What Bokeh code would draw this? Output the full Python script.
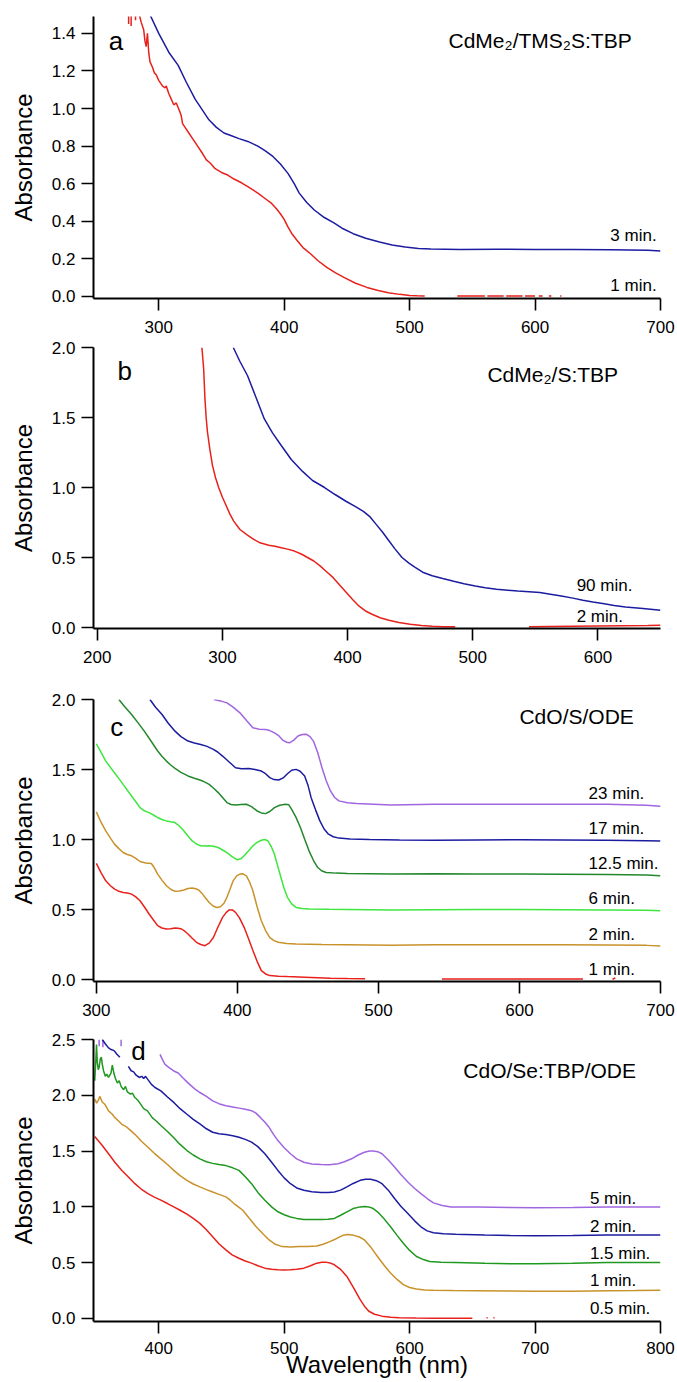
from bokeh.plotting import figure
from bokeh.layouts import column
from bokeh.models import FixedTicker, NumeralTickFormatter, Label, Range1d
from bokeh.embed import file_html
from bokeh.resources import INLINE

NaN = float("nan")
FONT = "Liberation Sans"

RED = "#e8211b"
BLUE = "#1c1ca0"
GOLD = "#c8922a"
LGREEN = "#3ee63e"
DGREEN = "#23882b"
GREEN = "#1f981f"
PURPLE = "#a066e0"

# ---------------- Panel a : CdMe2/TMS2S:TBP ----------------
a_wl_3min = [293, 300, 308, 315.5, 322, 329, 335, 340, 346, 352, 358, 364, 371, 379, 385, 391, 397, 403, 408, 412, 418,
             424, 432, 440, 447, 455, 465, 476, 486, 496.5, 507, 517, 540, 570, 600, 630, 660, 690, 700]
a_abs_3min = [1.50, 1.40, 1.30, 1.23, 1.14, 1.05, 0.99, 0.94, 0.90, 0.87, 0.855, 0.84, 0.825, 0.80, 0.775, 0.745, 0.705,
              0.655, 0.60, 0.55, 0.50, 0.46, 0.42, 0.39, 0.36, 0.334, 0.31, 0.29, 0.274, 0.263, 0.255, 0.252, 0.25,
              0.251, 0.25, 0.25, 0.249, 0.246, 0.242]
a_wl_1min = [276, 276, NaN, 278, 278, NaN, 281.5, 281.5, NaN,
             284.5, 286, 288, 289, 290, 291, 292, 293, 295, 296.5, 298, 300, 302, 303, 305, 306, 308, 310, 312, 314, 317,
             318, 319, 321, 324, 327, 331, 334, 338, 341, 345, 350, 355, 360, 366, 372, 379, 385, 390, 394, 397, 400,
             403, 406, 410, 415, 421, 427, 434, 441, 448, 457, 466, 475, 483, 492, 500, 506, 512,
             NaN, 538, 560, NaN, 562, 575, NaN, 577, 590, NaN, 592, 600, NaN, 603, 606, NaN, 611, 613, NaN, 620, 621]
a_abs_1min = [1.45, 1.50, NaN, 1.44, 1.50, NaN, 1.47, 1.50, NaN,
              1.50, 1.46, 1.42, 1.36, 1.33, 1.40, 1.30, 1.25, 1.22, 1.19, 1.18, 1.15, 1.13, 1.12, 1.11, 1.12, 1.08, 1.05,
              1.02, 1.03, 0.98, 0.96, 0.92, 0.90, 0.87, 0.84, 0.80, 0.77, 0.727, 0.71, 0.68, 0.66, 0.646, 0.625, 0.605,
              0.58, 0.55, 0.52, 0.495, 0.465, 0.44, 0.41, 0.37, 0.335, 0.30, 0.26, 0.227, 0.19, 0.155, 0.125, 0.10, 0.07,
              0.048, 0.032, 0.02, 0.011, 0.005, 0.003, 0.002,
              NaN, 0.002, 0.002, NaN, 0.002, 0.002, NaN, 0.002, 0.002, NaN, 0.002, 0.002, NaN, 0.002, 0.002, NaN,
              0.002, 0.002, NaN, 0.002, 0.002]

# ---------------- Panel b : CdMe2/S:TBP ----------------
b_wl_90min = [308.7, 314, 320, 327, 333.5, 340, 347, 355, 364, 372, 381.6, 390, 399, 406, 412.6, 418, 423, 428, 433, 438,
              443.5, 449, 454, 460, 467.6, 476, 484.8, 493, 502, 510, 519, 528, 536, 545, 553.6, 562, 570.8, 580, 588,
              596, 605, 613, 622, 636, 650]
b_abs_90min = [2.0, 1.90, 1.80, 1.64, 1.49, 1.39, 1.30, 1.20, 1.115, 1.05, 1.00, 0.95, 0.90, 0.865, 0.83, 0.79, 0.735,
               0.68, 0.62, 0.56, 0.50, 0.46, 0.43, 0.395, 0.37, 0.35, 0.33, 0.313, 0.297, 0.284, 0.273, 0.266, 0.26,
               0.255, 0.25, 0.238, 0.225, 0.21, 0.195, 0.182, 0.17, 0.158, 0.147, 0.135, 0.123]
b_wl_2min = [283.6, 285, 286, 287, 288, 290, 292, 294.5, 297, 300, 302.5, 306, 309, 314, 320, 325, 330, 337, 342, 347,
             352, 357.5, 363, 368, 373, 378, 383, 388.5, 394, 399, 404, 409, 414, 419.5, 426, 433, 441, 450, 459, 467.6,
             476, 486, NaN, 545, 560, 580, 600, 620, 640, 650]
b_abs_2min = [2.0, 1.85, 1.64, 1.50, 1.40, 1.27, 1.16, 1.07, 1.0, 0.93, 0.88, 0.81, 0.76, 0.70, 0.66, 0.63, 0.605, 0.588,
              0.58, 0.57, 0.56, 0.546, 0.525, 0.50, 0.475, 0.44, 0.40, 0.356, 0.30, 0.25, 0.20, 0.154, 0.12, 0.095, 0.07,
              0.052, 0.036, 0.024, 0.014, 0.009, 0.006, 0.005, NaN, 0.005, 0.007, 0.009, 0.011, 0.013, 0.015, 0.017]

# ---------------- Panel c : CdO/S/ODE ----------------
c_wl_1min = [300, 303.5, 306.7, 310, 313, 316, 319, 322, 325, 328, 331, 334, 337.4, 340.5, 343.5, 346.5, 349.7, 352.7,
             355.8, 358, 360.4, 362.7, 365, 368, 371, 374, 377, 380, 383, 386, 389.5, 392, 394, 396.5, 398.7, 401.5,
             404.8, 408, 411, 414, 417, 420, 423, 429, 435.5, 447.7, 466, 478, 490.6, NaN, 545, 645, NaN, 666, 668]
c_abs_1min = [0.83, 0.76, 0.705, 0.67, 0.646, 0.63, 0.622, 0.618, 0.61, 0.59, 0.563, 0.52, 0.468, 0.425, 0.385, 0.368,
              0.361, 0.362, 0.368, 0.367, 0.361, 0.345, 0.325, 0.295, 0.266, 0.25, 0.242, 0.26, 0.30, 0.37, 0.444, 0.478,
              0.496, 0.497, 0.48, 0.44, 0.373, 0.29, 0.207, 0.13, 0.064, 0.04, 0.028, 0.024, 0.021, 0.017, 0.01, 0.007,
              0.005, NaN, 0.003, 0.003, NaN, 0.002, 0.012]
c_wl_2min = [300, 303.5, 306.7, 310, 312.9, 316, 319, 322, 325, 328, 331, 335, 339, 341, 343.5, 346.5, 349.7, 352.7,
             355.8, 359, 362, 365, 368, 370.5, 372.6, 375, 377, 380, 383, 385.5, 388, 390.5, 392.6, 395, 397, 399.5,
             401.8, 404, 406.4, 408.5, 411, 414, 417, 420, 423, 426, 429, 435, 441.6, 460, 478, 509, 539.7, 570, 601,
             630, 662, 690, 700]
c_abs_2min = [1.197, 1.12, 1.062, 1.01, 0.967, 0.935, 0.907, 0.893, 0.884, 0.865, 0.843, 0.832, 0.829, 0.80, 0.753, 0.71,
              0.67, 0.645, 0.63, 0.632, 0.64, 0.65, 0.653, 0.648, 0.64, 0.615, 0.587, 0.55, 0.523, 0.515, 0.52, 0.545,
              0.587, 0.65, 0.705, 0.74, 0.753, 0.755, 0.741, 0.70, 0.634, 0.52, 0.42, 0.35, 0.30, 0.278, 0.266, 0.258,
              0.254, 0.25, 0.249, 0.245, 0.249, 0.249, 0.249, 0.249, 0.247, 0.244, 0.24]
c_wl_6min = [300, 303.5, 306.7, 310, 312.9, 316, 319, 322, 325, 328, 331, 334, 337.4, 340.5, 343.5, 346.5, 349.7, 352.7,
             355.8, 359, 362, 365, 368, 371, 374, 377, 380, 383, 386.4, 389.5, 392.6, 396, 400, 402.5, 404.8, 408, 411,
             414, 417, 419.5, 421.7, 424, 426.3, 428.5, 430.9, 433, 435.5, 438.5, 441.6, 446, 450.8, 465, 478, 509,
             539.7, 570, 601, 630, 662, 690, 700]
c_abs_6min = [1.684, 1.62, 1.56, 1.515, 1.477, 1.435, 1.394, 1.352, 1.311, 1.27, 1.228, 1.205, 1.192, 1.175, 1.157,
              1.143, 1.133, 1.127, 1.121, 1.095, 1.062, 1.025, 0.99, 0.968, 0.955, 0.953, 0.955, 0.952, 0.943, 0.925,
              0.907, 0.88, 0.855, 0.862, 0.884, 0.92, 0.955, 0.98, 0.995, 1.0, 0.99, 0.95, 0.895, 0.815, 0.729, 0.655,
              0.587, 0.54, 0.515, 0.507, 0.504, 0.502, 0.501, 0.496, 0.499, 0.5, 0.501, 0.499, 0.496, 0.494, 0.492]
c_wl_12min = [316, 320, 325, 329.5, 334, 339, 343.5, 346.5, 349.7, 352.7, 355.8, 360, 365, 369.5, 374, 377, 380, 383,
              386.4, 389.5, 392.6, 395.5, 398.7, 402.5, 406.4, 410, 414, 417, 420, 423, 426.3, 430, 434, 436.5, 438.5,
              441.5, 444.7, 447.8, 450.8, 454, 457, 460, 463, 470, 478, 509, 539.7, 570, 601, 630, 662, 690, 700]
c_abs_12min = [2.0, 1.95, 1.893, 1.835, 1.774, 1.70, 1.632, 1.595, 1.56, 1.532, 1.508, 1.48, 1.454, 1.438, 1.423, 1.41,
               1.394, 1.368, 1.335, 1.30, 1.264, 1.25, 1.247, 1.25, 1.252, 1.235, 1.204, 1.19, 1.185, 1.2, 1.228, 1.245,
               1.252, 1.248, 1.216, 1.16, 1.086, 1.0, 0.919, 0.85, 0.80, 0.775, 0.765, 0.76, 0.758, 0.753, 0.755, 0.754,
               0.753, 0.752, 0.75, 0.746, 0.741]
c_wl_17min = [338, 342, 346.6, 351, 355.8, 360, 365, 369.5, 374, 378.5, 383, 386, 389.5, 394, 398.7, 403, 408, 412.5,
              417, 420, 423, 426, 429.3, 432.5, 435.5, 438.5, 441.6, 444.5, 447.7, 450, 452.3, 455.5, 458.5, 461.5,
              464.6, 468, 472, 480, 493.7, 515, 539.7, 570, 601, 630, 662, 690, 700]
c_abs_17min = [2.0, 1.945, 1.893, 1.83, 1.774, 1.735, 1.703, 1.69, 1.679, 1.665, 1.644, 1.625, 1.596, 1.555, 1.513,
               1.505, 1.508, 1.50, 1.489, 1.47, 1.442, 1.428, 1.425, 1.44, 1.47, 1.495, 1.501, 1.488, 1.454, 1.39, 1.299,
               1.21, 1.133, 1.075, 1.038, 1.02, 1.01, 1.003, 1.0, 0.997, 0.995, 0.997, 0.998, 0.997, 0.995, 0.992, 0.99]
c_wl_23min = [383.4, 388, 392.6, 397, 401.8, 406.5, 411, 415.5, 420, 423, 426.3, 429.5, 432.4, 435, 437, 440, 443, 446,
              449, 451.5, 453.9, 457, 460, 463, 466, 469, 472, 478, 484.5, 509, 539.7, 570, 601, 630, 662, 690, 700]
c_abs_23min = [2.0, 1.99, 1.976, 1.945, 1.905, 1.85, 1.798, 1.788, 1.786, 1.778, 1.762, 1.74, 1.708, 1.695, 1.691, 1.71,
               1.739, 1.75, 1.751, 1.735, 1.703, 1.62, 1.513, 1.42, 1.347, 1.30, 1.276, 1.262, 1.257, 1.247, 1.252,
               1.251, 1.252, 1.251, 1.252, 1.245, 1.238]

# ---------------- Panel d : CdO/Se:TBP/ODE ----------------
d_wl_05min = [349, 355, 360, 365, 370.6, 376, 381, 386, 391.4, 396.5, 401.7, 407, 412, 417, 422.5, 427.5, 432.8, 438,
              443, 448, 453.5, 458.5, 463.9, 469, 474, 479, 484.6, 490, 495, 500, 505, 510, 515.7, 521, 526, 530, 533,
              536.5, 540, 545, 550, 555, 560.6, 564, 567.5, 572, 578, 585, 591.7, 605, 619, 635, 650, NaN, 661.5, 662,
              NaN, 667, 667.5]
d_abs_05min = [1.63, 1.55, 1.476, 1.40, 1.327, 1.265, 1.208, 1.16, 1.119, 1.088, 1.06, 1.03, 1.0, 0.97, 0.935, 0.897,
               0.852, 0.795, 0.733, 0.67, 0.615, 0.57, 0.54, 0.515, 0.496, 0.472, 0.451, 0.442, 0.436, 0.434, 0.436,
               0.442, 0.451, 0.472, 0.496, 0.503, 0.505, 0.498, 0.481, 0.44, 0.377, 0.28, 0.169, 0.11, 0.065, 0.038,
               0.021, 0.012, 0.006, 0.004, 0.003, 0.003, 0.003, NaN, 0.0, 0.01, NaN, 0.0, 0.01]
d_wl_1min = [349, 350.5, 352, 353, 355, 357, 360, 363, 365, 368, 370.6, 374, 377, 381, 386, 391.4, 396.5, 401.7, 407,
             412, 417, 422.5, 427.5, 432.8, 438, 443, 448, 453.5, 457, 460, 463.5, 467, 472, 477.7, 483, 488, 493,
             498.4, 505, 512, 519, 526, 531, 536.4, 541.5, 546.8, 551, 555.4, 560, 564, 569, 574.4, 579.5, 584.8, 590,
             595, 600, 605.5, 612, 619, 635, 654, 680, 700, 730, 757.5, 780, 800]
d_abs_1min = [1.966, 1.93, 1.96, 1.99, 1.94, 1.92, 1.86, 1.83, 1.80, 1.77, 1.74, 1.72, 1.69, 1.65, 1.59, 1.535, 1.48,
              1.43, 1.38, 1.327, 1.28, 1.238, 1.205, 1.179, 1.155, 1.134, 1.112, 1.09, 1.06, 1.03, 1.0, 0.97, 0.90,
              0.822, 0.76, 0.704, 0.665, 0.644, 0.64, 0.644, 0.646, 0.65, 0.665, 0.689, 0.715, 0.745, 0.752, 0.745,
              0.73, 0.704, 0.64, 0.555, 0.48, 0.407, 0.35, 0.303, 0.278, 0.264, 0.256, 0.252, 0.25, 0.249, 0.247,
              0.243, 0.245, 0.249, 0.25, 0.252]
d_wl_15min = [349, 349.8, 350.4, 351, 351.8, 352.5, 353.5, 354.3, 355, 356, 357.4, 358.5, 360, 362, 363, 364.4, 365.5,
              367, 368.5, 370, 372, 373.5, 375, 377.5, 379, 381, 383, 385, 388, 391, 394.8, 398, 401.7, 407, 412, 417,
              422.5, 427.5, 432.8, 438, 443, 448, 453.5, 459, 464, 469, 474, 479, 484.6, 490, 495, 500, 505, 510, 515.7,
              522, 529.5, 535, 540, 545, 550, 555, 560.6, 564, 567.5, 571, 574.4, 579.5, 584.8, 590, 595, 600, 605.5,
              611, 616, 625, 636.6, 660, 680, 700, 730, 757.5, 780, 800]
d_abs_15min = [2.13, 2.30, 2.455, 2.30, 2.23, 2.25, 2.33, 2.34, 2.28, 2.22, 2.17, 2.19, 2.16, 2.20, 2.27, 2.19, 2.15,
               2.11, 2.13, 2.08, 2.05, 2.08, 2.03, 2.01, 2.02, 1.98, 1.96, 1.93, 1.88, 1.86, 1.80, 1.77, 1.73, 1.675,
               1.62, 1.56, 1.505, 1.465, 1.43, 1.405, 1.39, 1.38, 1.37, 1.35, 1.327, 1.27, 1.208, 1.13, 1.06, 1.0, 0.956,
               0.93, 0.91, 0.897, 0.888, 0.886, 0.888, 0.89, 0.897, 0.925, 0.956, 0.985, 1.0, 1.003, 1.0, 0.985, 0.956,
               0.895, 0.822, 0.745, 0.674, 0.61, 0.555, 0.528, 0.51, 0.503, 0.502, 0.495, 0.49, 0.49, 0.496, 0.502,
               0.502, 0.502]
d_wl_2min = [355, 357.5, 360, 362, 364.4, 366.5, 369, NaN, 375.8, 378, 380, 382, 384.5, 386.5, 388, 389.5, 391.4, 394,
             397, 401.7, 407, 412, 417, 422.5, 427.5, 432.8, 438, 443, 448, 453.5, 459, 464, 469, 474, 479, 484.6, 490,
             495, 500, 505, 510, 515.7, 522, 529.5, 535, 540, 545, 550, 555, 560.6, 565, 569, 573.5, 578, 583, 588,
             593, 598.6, 604, 609, 614, 619, 627, 636.6, 660, 680, 700, 730, 757.5, 780, 800]
d_abs_2min = [2.5, 2.46, 2.425, 2.41, 2.40, 2.37, 2.34, NaN, 2.26, 2.22, 2.21, 2.18, 2.16, 2.17, 2.15, 2.17, 2.14, 2.10,
              2.07, 2.04, 1.985, 1.936, 1.88, 1.83, 1.785, 1.743, 1.70, 1.669, 1.655, 1.648, 1.638, 1.624, 1.605, 1.58,
              1.54, 1.476, 1.40, 1.327, 1.26, 1.208, 1.17, 1.149, 1.135, 1.128, 1.128, 1.134, 1.15, 1.179, 1.21, 1.238,
              1.248, 1.247, 1.235, 1.208, 1.15, 1.075, 1.005, 0.941, 0.875, 0.822, 0.785, 0.769, 0.76, 0.754, 0.748,
              0.744, 0.742, 0.744, 0.748, 0.748, 0.748]
d_wl_5min = [352.5, 352.5, NaN, 355.5, 355.5, NaN, 370, 370, NaN, 401, 403, 405, 408, 412, 415.5, 419, 422.5, 426,
             429.5, 432.8, 438, 443, 448, 453.5, 459, 464, 469, 474, 477.5, 481, 484.5, 488, 491.5, 495, 500, 505, 510,
             515.7, 522, 529.5, 536, 543, 548, 553.7, 559, 564, 568, 571, 574.5, 578, 583, 588, 593, 598.6, 604, 609,
             614, 619, 626, 633, 654, 680, 700, 730, 757.5, 780, 800]
d_abs_5min = [2.44, 2.5, NaN, 2.43, 2.5, NaN, 2.44, 2.5, NaN, 2.366, 2.32, 2.277, 2.25, 2.218, 2.20, 2.159, 2.12, 2.084,
              2.05, 2.025, 1.99, 1.95, 1.925, 1.906, 1.895, 1.885, 1.875, 1.862, 1.84, 1.802, 1.76, 1.713, 1.65, 1.594,
              1.53, 1.476, 1.43, 1.40, 1.385, 1.38, 1.378, 1.387, 1.405, 1.431, 1.465, 1.49, 1.50, 1.50, 1.495, 1.476,
              1.42, 1.357, 1.29, 1.223, 1.165, 1.119, 1.075, 1.036, 1.012, 1.0, 0.998, 0.995, 0.992, 0.995, 1.0, 0.998,
              0.998]

# ---------------- text ----------------
a_title, b_title, c_title, d_title = "CdMe\u2082/TMS\u2082S:TBP", "CdMe\u2082/S:TBP", "CdO/S/ODE", "CdO/Se:TBP/ODE"
a_curve_labels = ["3 min.", "1 min."]
a_curve_label_y = [0.325, 0.057]
b_curve_labels = ["90 min.", "2 min."]
b_curve_label_y = [0.297, 0.076]
c_curve_labels = ["23 min.", "17 min.", "12.5 min.", "6 min.", "2 min.", "1 min."]
c_curve_label_y = [1.328, 1.078, 0.829, 0.582, 0.325, 0.074]
d_curve_labels = ["5 min.", "2 min.", "1.5 min.", "1 min.", "0.5 min."]
d_curve_label_y = [1.075, 0.822, 0.585, 0.341, 0.086]

a_xticks, a_yticks = [300, 400, 500, 600, 700], [0.0, 0.2, 0.4, 0.6, 0.8, 1.0, 1.2, 1.4]
b_xticks, b_yticks = [200, 300, 400, 500, 600], [0.0, 0.5, 1.0, 1.5, 2.0]
c_xticks, c_yticks = [300, 400, 500, 600, 700], [0.0, 0.5, 1.0, 1.5, 2.0]
d_xticks, d_yticks = [400, 500, 600, 700, 800], [0.0, 0.5, 1.0, 1.5, 2.0, 2.5]


def make_panel(height, top, bottom, xr, yr, xticks, yticks, xlabel=None):
    p = figure(width=677, height=height, output_backend="svg", toolbar_location=None,
               x_range=Range1d(*xr), y_range=Range1d(*yr),
               min_border_left=93, min_border_right=17, min_border_top=top, min_border_bottom=bottom)
    p.outline_line_color = None
    p.xgrid.visible = False
    p.ygrid.visible = False
    p.background_fill_color = "white"
    p.border_fill_color = "white"
    p.xaxis.ticker = FixedTicker(ticks=xticks)
    p.yaxis.ticker = FixedTicker(ticks=yticks)
    p.yaxis.formatter = NumeralTickFormatter(format="0.0")
    for ax in (p.xaxis[0], p.yaxis[0]):
        ax.axis_line_width = 2
        ax.axis_line_color = "black"
        ax.major_tick_line_width = 1.6
        ax.major_tick_line_color = "black"
        ax.major_tick_out = 12
        ax.major_tick_in = 0
        ax.minor_tick_out = 0
        ax.minor_tick_in = 0
        ax.major_label_text_font = FONT
        ax.major_label_text_font_size = "17px"
        ax.major_label_text_color = "black"
        ax.axis_label_text_font = FONT
        ax.axis_label_text_font_style = "normal"
        ax.axis_label_text_font_size = "24px"
        ax.axis_label_text_color = "black"
    p.xaxis.major_label_standoff = 10
    p.yaxis.major_label_standoff = 6
    p.yaxis.axis_label = "Absorbance"
    p.yaxis.axis_label_standoff = 12
    if xlabel:
        p.xaxis.axis_label = xlabel
        p.xaxis.major_label_standoff = 8
        p.xaxis.axis_label_standoff = -6
    return p


def add_text(p, x, y, text, size, align="left"):
    p.add_layout(Label(x=x, y=y, text=text, text_font=FONT, text_font_size=size, text_color="black",
                       text_align=align, text_baseline="middle"))


# Panel a
pa = make_panel(340, 16, 42, (248, 700), (-0.011, 1.49), a_xticks, a_yticks)
pa.line(a_wl_3min, a_abs_3min, line_color=BLUE, line_width=1.5)
pa.line(a_wl_1min, a_abs_1min, line_color=RED, line_width=1.5)
add_text(pa, 266, 1.36, "a", "26px", "center")
add_text(pa, 531, 1.36, a_title, "21px")
for t, yv in zip(a_curve_labels, a_curve_label_y):
    add_text(pa, 660, yv, t, "17px")

# Panel b
pb = make_panel(350, 7, 62, (197, 650), (-0.007, 2.0), b_xticks, b_yticks)
pb.line(b_wl_90min, b_abs_90min, line_color=BLUE, line_width=1.5)
pb.line(b_wl_2min, b_abs_2min, line_color=RED, line_width=1.5)
add_text(pb, 222, 1.83, "b", "26px", "center")
add_text(pb, 511.7, 1.81, b_title, "21px")
for t, yv in zip(b_curve_labels, b_curve_label_y):
    add_text(pb, 583, yv, t, "17px")

# Panel c
pc = make_panel(340, 9, 49, (298, 700), (-0.014, 2.0), c_xticks, c_yticks)
for wl, ab, col in [(c_wl_23min, c_abs_23min, PURPLE), (c_wl_17min, c_abs_17min, BLUE),
                    (c_wl_12min, c_abs_12min, DGREEN), (c_wl_6min, c_abs_6min, LGREEN),
                    (c_wl_2min, c_abs_2min, GOLD), (c_wl_1min, c_abs_1min, RED)]:
    pc.line(wl, ab, line_color=col, line_width=1.5)
add_text(pc, 314.4, 1.805, "c", "26px", "center")
add_text(pc, 600, 1.88, c_title, "21px")
for t, yv in zip(c_curve_labels, c_curve_label_y):
    add_text(pc, 649, yv, t, "17px")

# Panel d
pd_ = make_panel(352, 9, 61, (348, 800), (-0.027, 2.5), d_xticks, d_yticks, xlabel="Wavelength (nm)")
for wl, ab, col in [(d_wl_5min, d_abs_5min, PURPLE), (d_wl_2min, d_abs_2min, BLUE),
                    (d_wl_15min, d_abs_15min, GREEN), (d_wl_1min, d_abs_1min, GOLD),
                    (d_wl_05min, d_abs_05min, RED)]:
    pd_.line(wl, ab, line_color=col, line_width=1.5)
add_text(pd_, 383.8, 2.40, "d", "26px", "center")
add_text(pd_, 642.8, 2.218, d_title, "21px")
for t, yv in zip(d_curve_labels, d_curve_label_y):
    add_text(pd_, 743.7, yv, t, "17px")

layout = column(pa, pb, pc, pd_, spacing=0)
open("out.html", "w").write(file_html(layout, INLINE))
